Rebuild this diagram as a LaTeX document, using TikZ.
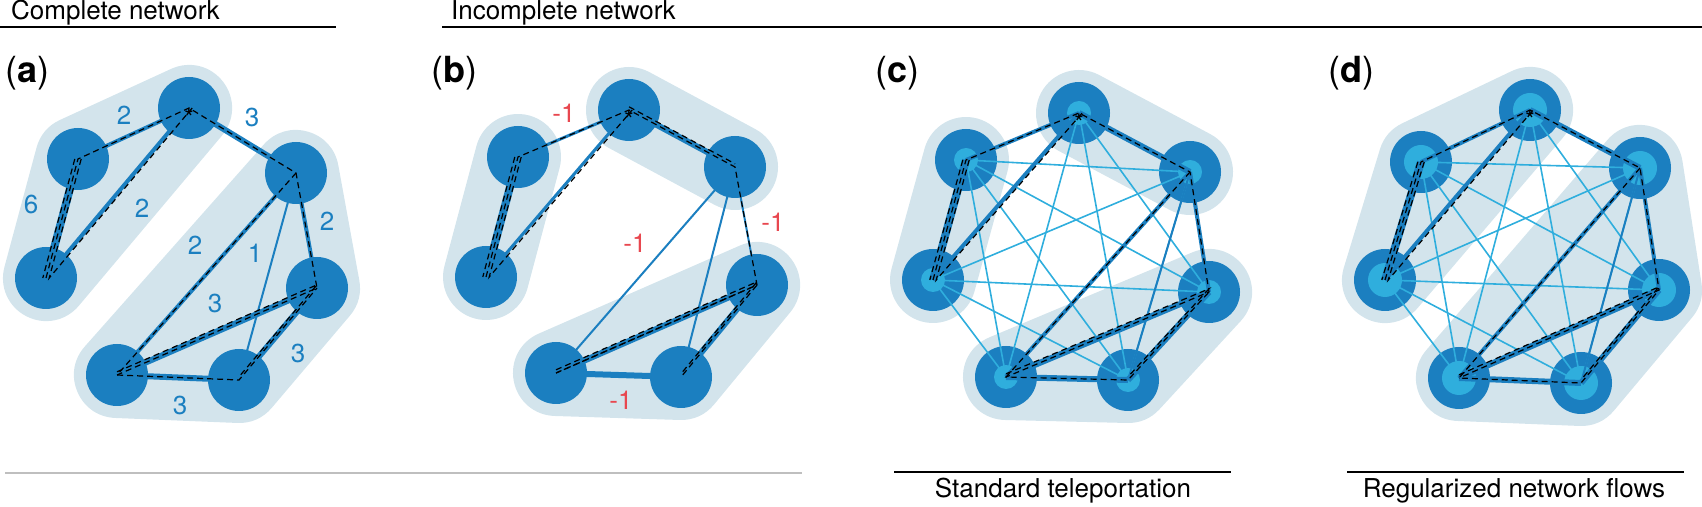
\documentclass[tikz,border=0pt]{standalone}
\usepackage{fontspec}
\setmainfont{TeX Gyre Heros}
\definecolor{nodeblue}{HTML}{1B7FC0}
\definecolor{hullblue}{HTML}{D3E4EC}
\definecolor{lightblue}{HTML}{2FAEDD}
\definecolor{flowred}{HTML}{E8474F}
\tikzset{
  hull/.style={draw=hullblue,fill=hullblue,line width=43pt,line join=round,line cap=round},
  bignode/.style={circle,fill=nodeblue,minimum size=31pt,inner sep=0pt},
  small/.style={circle,fill=lightblue,minimum size=#1,inner sep=0pt},
  link/.style={nodeblue,line width=#1},
  tele/.style={lightblue,line width=0.8pt},
  flow/.style={black,line width=0.6pt,dash pattern=on 3pt off 2pt},
  wlab/.style={text=nodeblue,font=\fontsize{13}{13}\selectfont},
  rlab/.style={text=flowred,font=\fontsize{13}{13}\selectfont},
  plab/.style={font=\fontsize{18}{18}\selectfont,anchor=west},
  head/.style={font=\fontsize{13}{13}\selectfont,anchor=west}
}
\begin{document}
\begin{tikzpicture}[x=0.5pt,y=-0.5pt]
  \useasboundingbox (0,0) rectangle (1702,507);

  % headings
  \node[head] (h1) at (4,13) {Complete network};
  \node[head] (h2) at (444,13) {Incomplete network};
  \draw[line width=0.8pt] (0,27) -- (336,27);
  \draw[line width=0.8pt] (442,27) -- (1702,27);
  \draw[gray!50,line width=0.6pt] (5,473) -- (802,473);
  \draw[line width=0.8pt] (894,472) -- (1231,472);
  \draw[line width=0.8pt] (1347,472) -- (1684,472);
  \node[head,anchor=center] (t1) at (1063,491) {Standard teleportation};
  \node[head,anchor=center] (t2) at (1514,491) {Regularized network flows};

  \node[plab] (pa) at (-2,73) {(\textbf{a})};
  \node[plab] (pb) at (424,73) {(\textbf{b})};
  \node[plab] (pc) at (868,73) {(\textbf{c})};
  \node[plab] (pd) at (1321,73) {(\textbf{d})};

  % node positions
  \foreach \i/\x/\y in {1/189/108,2/78/159,3/46/278,4/296/173,5/317/288,6/239/380,7/117/375}
    \coordinate (a\i) at (\x,\y);
  \foreach \i/\x/\y in {1/629/110,2/518/157,3/486/277,4/735/167,5/757/285,6/681/377,7/556/373}
    \coordinate (b\i) at (\x,\y);
  \foreach \i/\x/\y in {1/1079/113,2/966/160,3/933/280,4/1190/172,5/1209/292,6/1128/380,7/1006/377}
    \coordinate (c\i) at (\x,\y);
  \foreach \i/\x/\y in {1/1530/110,2/1421/162,3/1385/280,4/1640/168,5/1659/290,6/1581/383,7/1459/378}
    \coordinate (d\i) at (\x,\y);

  % modules
  \foreach \p in {a,d} {
    \filldraw[hull] (\p1) -- (\p2) -- (\p3) -- cycle;
    \filldraw[hull] (\p4) -- (\p5) -- (\p6) -- (\p7) -- cycle;
  }
  \foreach \p in {b,c} {
    \draw[hull] (\p2) -- (\p3);
    \draw[hull] (\p1) -- (\p4);
    \filldraw[hull] (\p5) -- (\p6) -- (\p7) -- cycle;
  }

  % nodes
  \foreach \p in {a,b,c,d}
    \foreach \i in {1,...,7}
      \node[bignode] (n\p\i) at (\p\i) {};
  \foreach \i in {1,...,7} {
    \node[small=12pt] (sc\i) at (c\i) {};
    \node[small=17pt] (sd\i) at (d\i) {};
  }

  % teleportation links
  \foreach \p in {c,d}
    \foreach \i in {1,...,7}
      \foreach \j in {1,...,7}
        {\ifnum\i<\j \draw[tele] (\p\i) -- (\p\j); \fi}

  % links
  \foreach \p in {a,c,d} {
    \draw[link=2pt] (\p1) -- (\p2);
    \draw[link=2pt] (\p1) -- (\p3);
    \draw[link=4pt] (\p2) -- (\p3);
    \draw[link=3pt] (\p1) -- (\p4);
    \draw[link=2pt] (\p4) -- (\p7);
    \draw[link=1pt] (\p4) -- (\p6);
    \draw[link=2pt] (\p4) -- (\p5);
    \draw[link=3pt] (\p5) -- (\p7);
    \draw[link=3pt] (\p5) -- (\p6);
    \draw[link=3pt] (\p6) -- (\p7);
  }
  \draw[link=1.5pt] (b1) -- (b2);
  \draw[link=1.5pt] (b1) -- (b3);
  \draw[link=4pt] (b2) -- (b3);
  \draw[link=3pt] (b1) -- (b4);
  \draw[link=1pt] (b4) -- (b7);
  \draw[link=1pt] (b4) -- (b6);
  \draw[link=1pt] (b4) -- (b5);
  \draw[link=3pt] (b5) -- (b7);
  \draw[link=3pt] (b5) -- (b6);
  \draw[link=3pt] (b6) -- (b7);

  % flows
  \foreach \p in {a,b,c,d} {
    \draw[flow] (\p3) -- (\p2) -- (\p1) -- (\p4) -- (\p5) -- (\p7);
    \draw[flow,transform canvas={shift={(1.6pt,0pt)}}] (\p2) -- (\p3) -- (\p1);
    \draw[flow,transform canvas={shift={(-1.6pt,0pt)}}] (\p2) -- (\p3);
    \draw[flow,transform canvas={shift={(0pt,1.6pt)}}] (\p7) -- (\p5) -- (\p6);
  }
  \foreach \p in {a,c,d} {
    \draw[flow] (\p4) -- (\p7) -- (\p6) -- (\p5);
  }
  \draw[flow,transform canvas={shift={(0pt,1.6pt)}}] (b1) -- (b4);
  \draw[flow] (b7) -- (b5) -- (b6);
  \foreach \p in {a,b,c,d}
    \node[font=\fontsize{12}{12}\selectfont] (s\p) at ([yshift=-5pt]\p1) {*};

  % weights
  \node[wlab] (wa12) at (124,115) {2};
  \node[wlab] (wa14) at (252,117) {3};
  \node[wlab] (wa23) at (31,204) {6};
  \node[wlab] (wa13) at (142,208) {2};
  \node[wlab] (wa47) at (195,245) {2};
  \node[wlab] (wa46) at (255,253) {1};
  \node[wlab] (wa45) at (327,221) {2};
  \node[wlab] (wa57) at (215,303) {3};
  \node[wlab] (wa56) at (298,353) {3};
  \node[wlab] (wa67) at (180,405) {3};
  \node[rlab] (wb12) at (564,113) {-1};
  \node[rlab] (wb45) at (773,222) {-1};
  \node[rlab] (wb47) at (635,243) {-1};
  \node[rlab] (wb67) at (621,400) {-1};
\end{tikzpicture}
\end{document}
